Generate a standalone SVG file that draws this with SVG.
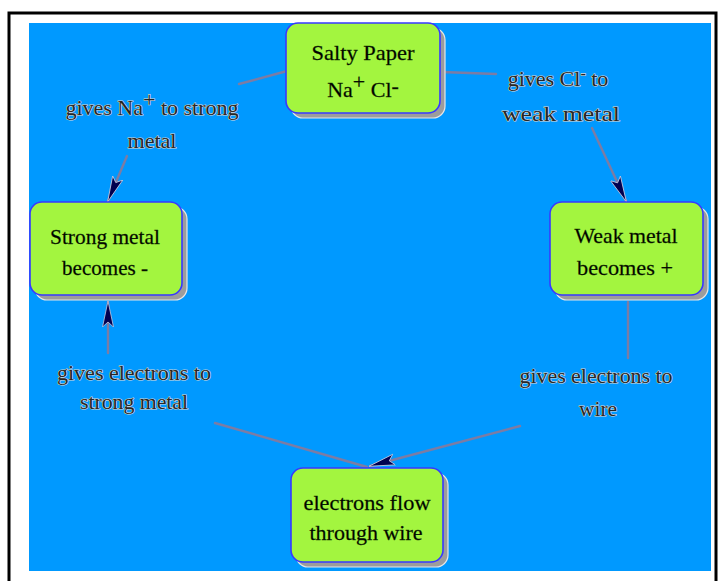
<svg xmlns="http://www.w3.org/2000/svg" width="718" height="581" viewBox="0 0 718 581">
<defs>
<style>
.bg{fill:#0099ff}
.frame{fill:none;stroke:#000;stroke-width:3}
.shadow{fill:#9c9c9c;stroke:#e6e6e6;stroke-width:1.2}
.box{fill:#a3f53f;stroke:#3838ff;stroke-width:1.6}
.nt{font-family:"Liberation Serif","Times New Roman",serif;font-size:22px;fill:#000;stroke:#1a3a00;stroke-width:0.3;text-anchor:middle}
.lt{font-family:"Liberation Serif","Times New Roman",serif;font-size:22px;fill:#262626;stroke:#d8d8d8;stroke-width:1.2;paint-order:stroke;text-anchor:middle}
.ln{fill:none;stroke:#7c7ca4;stroke-width:2.4;stroke-linecap:round}
</style>
<marker id="ah" viewBox="0 0 26 14" refX="25" refY="7" markerWidth="26" markerHeight="14" markerUnits="userSpaceOnUse" orient="auto">
<path d="M0,1.5 L26,7 L0,12.5 L5,7 Z" fill="#000050" stroke="#c8c8e0" stroke-width="0.8"/>
</marker>
</defs>
<rect class="bg" x="29" y="23" width="682" height="548"/>
<rect class="frame" x="9" y="13" width="707" height="572"/>
<g id="connectors">
<line class="ln" x1="287" y1="71" x2="239" y2="84"/>
<line class="ln" x1="127" y1="156" x2="108" y2="201" marker-end="url(#ah)"/>
<line class="ln" x1="442" y1="72" x2="496" y2="74"/>
<line class="ln" x1="592" y1="128" x2="626" y2="201" marker-end="url(#ah)"/>
<line class="ln" x1="628" y1="302" x2="628" y2="358"/>
<line class="ln" x1="108" y1="353" x2="108" y2="302" marker-end="url(#ah)"/>
<line class="ln" x1="215" y1="423" x2="367" y2="467"/>
<line class="ln" x1="520" y1="426" x2="370" y2="466" marker-end="url(#ah)"/>
</g>
<g id="salty">
<rect class="shadow" x="291" y="28" width="154" height="90" rx="12"/>
<rect class="box" x="286" y="23" width="154" height="90" rx="12"/>
<text class="nt" x="363" y="60" textLength="103" lengthAdjust="spacingAndGlyphs">Salty Paper</text>
<text class="nt" x="363" y="97">Na<tspan dy="-8">+</tspan><tspan dy="8"> Cl</tspan><tspan dy="-4">-</tspan></text>
</g>
<g id="strong">
<rect class="shadow" x="35" y="207" width="152" height="93" rx="12"/>
<rect class="box" x="30" y="202" width="152" height="93" rx="12"/>
<text class="nt" x="105" y="244" textLength="110" lengthAdjust="spacingAndGlyphs">Strong metal</text>
<text class="nt" x="105" y="275" textLength="86" lengthAdjust="spacingAndGlyphs">becomes -</text>
</g>
<g id="weak">
<rect class="shadow" x="555" y="207" width="153" height="93" rx="12"/>
<rect class="box" x="550" y="202" width="153" height="93" rx="12"/>
<text class="nt" x="626" y="243" textLength="103" lengthAdjust="spacingAndGlyphs">Weak metal</text>
<text class="nt" x="625" y="275" textLength="96" lengthAdjust="spacingAndGlyphs">becomes +</text>
</g>
<g id="electrons">
<rect class="shadow" x="296" y="473" width="152" height="94" rx="12"/>
<rect class="box" x="291" y="468" width="152" height="94" rx="12"/>
<text class="nt" x="367" y="510" textLength="127" lengthAdjust="spacingAndGlyphs">electrons flow</text>
<text class="nt" x="366" y="540" textLength="113" lengthAdjust="spacingAndGlyphs">through wire</text>
</g>
<g id="label-na">
<text class="lt" x="152" y="115">gives Na<tspan dy="-8">+</tspan><tspan dy="8"> to strong</tspan></text>
<text class="lt" x="152" y="148" textLength="49" lengthAdjust="spacingAndGlyphs">metal</text>
</g>
<g id="label-cl">
<text class="lt" x="558" y="86">gives Cl<tspan dy="-7" font-size="16">-</tspan><tspan dy="7"> to</tspan></text>
<text class="lt" x="561" y="121" textLength="118" lengthAdjust="spacingAndGlyphs">weak metal</text>
</g>
<g id="label-e-strong">
<text class="lt" x="134" y="380" textLength="154" lengthAdjust="spacingAndGlyphs">gives electrons to</text>
<text class="lt" x="134" y="409" textLength="108" lengthAdjust="spacingAndGlyphs">strong metal</text>
</g>
<g id="label-e-wire">
<text class="lt" x="596" y="383" textLength="153" lengthAdjust="spacingAndGlyphs">gives electrons to</text>
<text class="lt" x="598" y="416" textLength="38" lengthAdjust="spacingAndGlyphs">wire</text>
</g>
</svg>
